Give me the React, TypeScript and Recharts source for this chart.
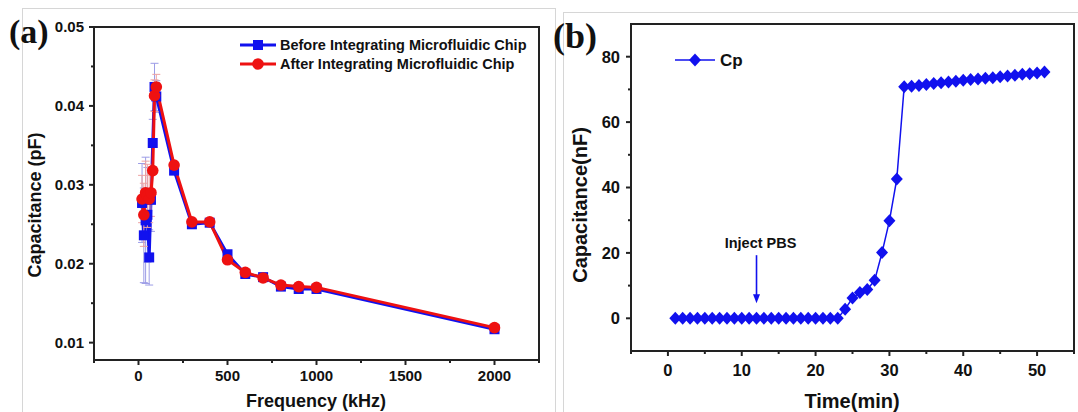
import React from "react";
import { LineChart, Line, XAxis, YAxis, ErrorBar, Legend, ReferenceLine } from "recharts";

// panel (a): capacitance vs frequency
const freqKHz = [20, 30, 40, 50, 60, 70, 80, 90, 100, 200, 300, 400, 500, 600, 700, 800, 900, 1000, 2000];
const beforeChip = [0.0277, 0.0236, 0.0255, 0.0262, 0.0208, 0.0281, 0.0353, 0.0424, 0.0412, 0.0318, 0.0250, 0.0252, 0.0212, 0.0187, 0.0183, 0.0171, 0.0168, 0.0168, 0.0117];
const afterChip = [0.0282, 0.0262, 0.029, 0.0286, 0.0282, 0.029, 0.0318, 0.0413, 0.0424, 0.0325, 0.0253, 0.0253, 0.0205, 0.0189, 0.0182, 0.0173, 0.0171, 0.017, 0.0119];
const beforeErr = [0.005, 0.006, 0.008, 0.006, 0.0035, 0.004, 0.003, 0.003, 0.002, 0, 0, 0, 0, 0, 0, 0, 0, 0, 0];
const afterErr = [0.003, 0.004, 0.004, 0.004, 0.003, 0.003, 0.003, 0.002, 0.0016, 0, 0, 0, 0, 0, 0, 0, 0, 0, 0];
const freqTicks = [-250, 0, 250, 500, 750, 1000, 1250, 1500, 1750, 2000, 2250];
const freqMajor = [0, 500, 1000, 1500, 2000];
const capTicks = [0.01, 0.015, 0.02, 0.025, 0.03, 0.035, 0.04, 0.045, 0.05];
const capMajor = [0.01, 0.02, 0.03, 0.04, 0.05];

// panel (b): capacitance vs time
const timeMin = [1, 2, 3, 4, 5, 6, 7, 8, 9, 10, 11, 12, 13, 14, 15, 16, 17, 18, 19, 20, 21, 22, 23, 24, 25, 26, 27, 28, 29, 30, 31, 32, 33, 34, 35, 36, 37, 38, 39, 40, 41, 42, 43, 44, 45, 46, 47, 48, 49, 50, 51];
const cpValues = [0, 0, 0, 0, 0, 0, 0, 0, 0, 0, 0, 0, 0, 0, 0, 0, 0, 0, 0, 0, 0, 0, 0, 2.8, 6.2, 7.9, 8.8, 11.6, 20.1, 29.8, 42.6, 70.8, 71.0, 71.2, 71.5, 71.8, 72.0, 72.3, 72.5, 72.8, 73.0, 73.2, 73.4, 73.6, 73.9, 74.1, 74.3, 74.6, 74.8, 75.0, 75.3];
const timeTicks = [-5, 0, 5, 10, 15, 20, 25, 30, 35, 40, 45, 50, 55];
const timeMajor = [0, 10, 20, 30, 40, 50];
const cpTicks = [0, 10, 20, 30, 40, 50, 60, 70, 80];
const cpMajor = [0, 20, 40, 60, 80];

const BLUE = "#1111ee";
const RED = "#ee1111";
const AXIS = "#222";
const SANS = "'Liberation Sans', Arial, sans-serif";
const SERIF = "'Liberation Serif', 'Times New Roman', serif";

const freqData = freqKHz.map((f, i) => ({
  f,
  before: beforeChip[i],
  after: afterChip[i],
  errB: beforeErr[i],
  errA: afterErr[i],
}));
const timeData = timeMin.map((t, i) => ({ t, cp: cpValues[i] }));

const isMajor = (majors: number[], v: number) => majors.some((m) => Math.abs(m - v) < 1e-9);

const makeTick =
  (side: "bottom" | "left", majors: number[], fmt: (v: number) => string, fontSize: number, gap: number) =>
  (props: any) => {
    const { x, y, payload } = props;
    const v = payload.value;
    const major = isMajor(majors, v);
    const len = major ? 5 : 3;
    if (side === "bottom") {
      return (
        <g>
          <line x1={x} x2={x} y1={y} y2={y + len} stroke={AXIS} strokeWidth={2} />
          {major && (
            <text x={x} y={y + gap} dy="0.36em" textAnchor="middle" fontFamily={SANS} fontWeight="bold" fontSize={fontSize} fill="#111">
              {fmt(v)}
            </text>
          )}
        </g>
      );
    }
    return (
      <g>
        <line x1={x} x2={x - len} y1={y} y2={y} stroke={AXIS} strokeWidth={2} />
        {major && (
          <text x={x - gap} y={y} dy="0.36em" textAnchor="end" fontFamily={SANS} fontWeight="bold" fontSize={fontSize} fill="#111">
            {fmt(v)}
          </text>
        )}
      </g>
    );
  };

const squareDot = (p: any) => (
  <rect key={`sq${p.index}`} x={p.cx - 5} y={p.cy - 5} width={10} height={10} fill={BLUE} />
);
const circleDot = (p: any) => <circle key={`ci${p.index}`} cx={p.cx} cy={p.cy} r={5.8} fill={RED} />;
const diamondDot = (p: any) => (
  <polygon
    key={`dm${p.index}`}
    points={`${p.cx},${p.cy - 6.5} ${p.cx + 6},${p.cy} ${p.cx},${p.cy + 6.5} ${p.cx - 6},${p.cy}`}
    fill={BLUE}
  />
);

const legendA = () => (
  <svg width={300} height={40}>
    <line x1={2} x2={38} y1={10} y2={10} stroke={BLUE} strokeWidth={3} />
    <rect x={15} y={5} width={10} height={10} fill={BLUE} />
    <text x={42} y={10} dy="0.36em" fontFamily={SANS} fontWeight="bold" fontSize={14.5} fill="#111">
      Before Integrating Microfluidic Chip
    </text>
    <line x1={2} x2={38} y1={29} y2={29} stroke={RED} strokeWidth={3} />
    <circle cx={20} cy={29} r={5.8} fill={RED} />
    <text x={42} y={29} dy="0.36em" fontFamily={SANS} fontWeight="bold" fontSize={14.5} fill="#111">
      After Integrating Microfluidic Chip
    </text>
  </svg>
);

const legendB = () => (
  <svg width={80} height={24}>
    <line x1={2} x2={42} y1={10} y2={10} stroke={BLUE} strokeWidth={1.5} />
    <polygon points="22,3.5 28,10 22,16.5 16,10" fill={BLUE} />
    <text x={47} y={10} dy="0.36em" fontFamily={SANS} fontWeight="bold" fontSize={17} fill="#111">
      Cp
    </text>
  </svg>
);

const injectArrow = (p: any) => {
  const { x1, y1, x2, y2 } = p;
  return (
    <g>
      <line x1={x1} y1={y1} x2={x2} y2={y2 - 7} stroke={BLUE} strokeWidth={1.6} />
      <polygon points={`${x2 - 3.5},${y2 - 9} ${x2 + 3.5},${y2 - 9} ${x2},${y2}`} fill={BLUE} />
      <text x={x1 + 4} y={y1 - 12} dy="0.36em" textAnchor="middle" fontFamily={SANS} fontWeight="bold" fontSize={14.5} fill="#111">
        Inject PBS
      </text>
    </g>
  );
};

const textStyle: React.CSSProperties = {
  position: "absolute",
  fontFamily: SANS,
  fontWeight: "bold",
  color: "#111",
  whiteSpace: "nowrap",
  lineHeight: 1,
};

// top and right edges of the plot boxes
const boxEdge: React.CSSProperties = {
  position: "absolute",
  boxSizing: "border-box",
  borderTop: `2px solid ${AXIS}`,
  borderRight: `2px solid ${AXIS}`,
  pointerEvents: "none",
};

const App = () => {
  return (
    <div style={{ position: "fixed", left: 0, top: 0, width: 1078, height: 412, background: "#fff", overflow: "hidden" }}>
      {/* panel frames */}
      <div style={{ position: "absolute", left: 22, top: 8, width: 532, height: 420, border: "1px solid #d6d6d6" }} />
      <div style={{ position: "absolute", left: 563, top: 12, width: 530, height: 420, border: "1px solid #d6d6d6" }} />

      {/* (a) */}
      <div style={{ position: "absolute", left: 0, top: 0 }}>
        <LineChart width={560} height={412} data={freqData} margin={{ top: 27, right: 21, bottom: 22, left: 34 }}>
          <XAxis
            dataKey="f"
            type="number"
            domain={[-250, 2250]}
            ticks={freqTicks}
            interval={0}
            allowDataOverflow
            height={30}
            tickSize={0}
            tickMargin={0}
            tickLine={false}
            axisLine={{ stroke: AXIS, strokeWidth: 2 }}
            tick={makeTick("bottom", freqMajor, (v) => String(v), 15, 16)}
          />
          <YAxis
            type="number"
            domain={[0.0078, 0.05]}
            ticks={capTicks}
            interval={0}
            allowDataOverflow
            width={60}
            tickSize={0}
            tickMargin={0}
            tickLine={false}
            axisLine={{ stroke: AXIS, strokeWidth: 2 }}
            tick={makeTick("left", capMajor, (v) => v.toFixed(2), 15, 10)}
          />
          <Line dataKey="before" stroke={BLUE} strokeWidth={3} dot={squareDot} activeDot={false} isAnimationActive={false}>
            <ErrorBar dataKey="errB" width={4} strokeWidth={1} stroke="#9c9ce6" />
          </Line>
          <Line dataKey="after" stroke={RED} strokeWidth={3} dot={circleDot} activeDot={false} isAnimationActive={false}>
            <ErrorBar dataKey="errA" width={4} strokeWidth={1} stroke="#eea2a2" />
          </Line>
          <Legend
            content={legendA}
            layout="vertical"
            align="center"
            verticalAlign="middle"
            wrapperStyle={{ left: 238, top: 35, width: 300, bottom: "auto", right: "auto" }}
          />
        </LineChart>
      </div>
      <div style={{ ...boxEdge, left: 93, top: 26, width: 447, height: 334 }} />

      {/* (b) */}
      <div style={{ position: "absolute", left: 540, top: 0 }}>
        <LineChart width={538} height={412} data={timeData} margin={{ top: 24, right: 4, bottom: 31, left: 41 }}>
          <XAxis
            dataKey="t"
            type="number"
            domain={[-5, 55]}
            ticks={timeTicks}
            interval={0}
            allowDataOverflow
            height={30}
            tickSize={0}
            tickMargin={0}
            tickLine={false}
            axisLine={{ stroke: AXIS, strokeWidth: 2 }}
            tick={makeTick("bottom", timeMajor, (v) => String(v), 16.5, 19)}
          />
          <YAxis
            type="number"
            domain={[-10, 90]}
            ticks={cpTicks}
            interval={0}
            allowDataOverflow
            width={50}
            tickSize={0}
            tickMargin={0}
            tickLine={false}
            axisLine={{ stroke: AXIS, strokeWidth: 2 }}
            tick={makeTick("left", cpMajor, (v) => String(v), 16.5, 11)}
          />
          <ReferenceLine
            segment={[
              { x: 12, y: 19.3 },
              { x: 12, y: 4.6 },
            ]}
            stroke={BLUE}
            shape={injectArrow}
          />
          <Line dataKey="cp" stroke={BLUE} strokeWidth={1.5} dot={diamondDot} activeDot={false} isAnimationActive={false} />
          <Legend
            content={legendB}
            layout="vertical"
            align="center"
            verticalAlign="middle"
            wrapperStyle={{ left: 133, top: 50, width: 80, bottom: "auto", right: "auto" }}
          />
        </LineChart>
      </div>
      <div style={{ ...boxEdge, left: 630, top: 23, width: 445, height: 328 }} />

      {/* titles and axis labels */}
      <div style={{ ...textStyle, left: 9, top: 15, fontFamily: SERIF, fontSize: 34 }}>(a)</div>
      <div style={{ ...textStyle, left: 553, top: 18, fontFamily: SERIF, fontSize: 36 }}>(b)</div>
      <div style={{ ...textStyle, left: 35, top: 205, fontSize: 18, transform: "translate(-50%, -50%) rotate(-90deg)" }}>
        Capacitance (pF)
      </div>
      <div style={{ ...textStyle, left: 316, top: 401, fontSize: 18, transform: "translate(-50%, -50%)" }}>
        Frequency (kHz)
      </div>
      <div style={{ ...textStyle, left: 580, top: 205, fontSize: 20, transform: "translate(-50%, -50%) rotate(-90deg)" }}>
        Capacitance(nF)
      </div>
      <div style={{ ...textStyle, left: 852, top: 401, fontSize: 20, transform: "translate(-50%, -50%)" }}>
        Time(min)
      </div>
    </div>
  );
};

export default App;
